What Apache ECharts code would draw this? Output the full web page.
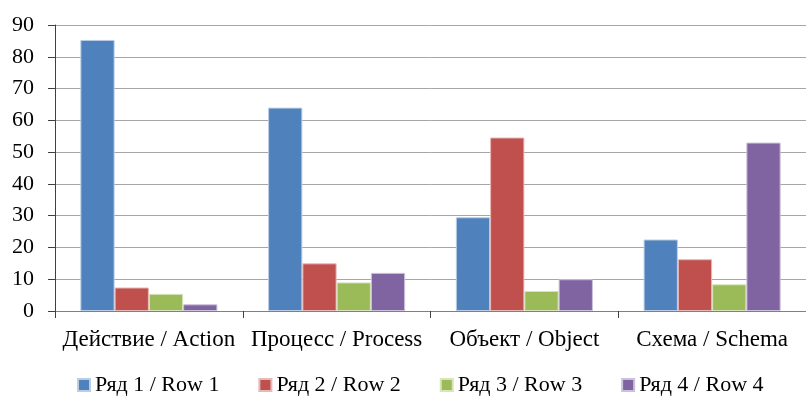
<!DOCTYPE html>
<html>
<head>
<meta charset="utf-8">
<script src="https://cdn.jsdelivr.net/npm/echarts@6/dist/echarts.min.js"></script>
<style>
  html, body { margin: 0; padding: 0; background: #fff; }
  #chart { width: 806px; height: 397px; }
</style>
</head>
<body>
<div id="chart"></div>
<script>
const categories = ['Действие / Action', 'Процесс / Process', 'Объект / Object', 'Схема / Schema'];
const seriesNames = ['Ряд 1 / Row 1', 'Ряд 2 / Row 2', 'Ряд 3 / Row 3', 'Ряд 4 / Row 4'];
const row1 = [85.3, 64, 29.5, 22.5];
const row2 = [7.4, 15, 54.6, 16.3];
const row3 = [5.4, 9, 6.3, 8.4];
const row4 = [2.1, 12, 10, 53];
const colors = ['#4F81BD', '#C0504D', '#9BBB59', '#8064A2'];
const borders = ['#b9cde5', '#e6b9b8', '#d7e4bd', '#ccc1da'];

const font = '"Liberation Serif", "Times New Roman", "DejaVu Serif", serif';
const chart = echarts.init(document.getElementById('chart'), null, { renderer: 'canvas' });

const opt = {
  animation: false,
  grid: { left: 55, top: 25, width: 759, height: 286 },
  legend: {
    top: 374,
    left: 77,
    padding: 0,
    itemWidth: 12,
    itemHeight: 12,
    itemGap: 39,
    icon: 'rect',
    textStyle: { fontFamily: font, fontSize: 22, color: '#000' },
    data: seriesNames
  },
  xAxis: {
    type: 'category',
    data: categories,
    axisLine: { lineStyle: { color: '#808080', width: 1 } },
    axisTick: { show: true, length: 7, lineStyle: { color: '#404040' } },
    axisLabel: { fontFamily: font, fontSize: 23, color: '#000', margin: 17, interval: 0 }
  },
  yAxis: {
    type: 'value',
    min: 0,
    max: 90,
    interval: 10,
    axisLine: { show: true, lineStyle: { color: '#404040' } },
    axisTick: { show: true, length: 7, lineStyle: { color: '#404040' } },
    axisLabel: { fontFamily: font, fontSize: 22, color: '#000', margin: 21 },
    splitLine: { lineStyle: { color: '#a6a6a6', width: 1 } }
  },
  series: [row1, row2, row3, row4].map((d, i) => ({
    name: seriesNames[i],
    type: 'bar',
    data: d,
    barGap: '0%',
    barCategoryGap: '27%',
    itemStyle: { color: colors[i], borderColor: borders[i], borderWidth: 1 }
  }))
};

chart.setOption(opt);
</script>
</body>
</html>
